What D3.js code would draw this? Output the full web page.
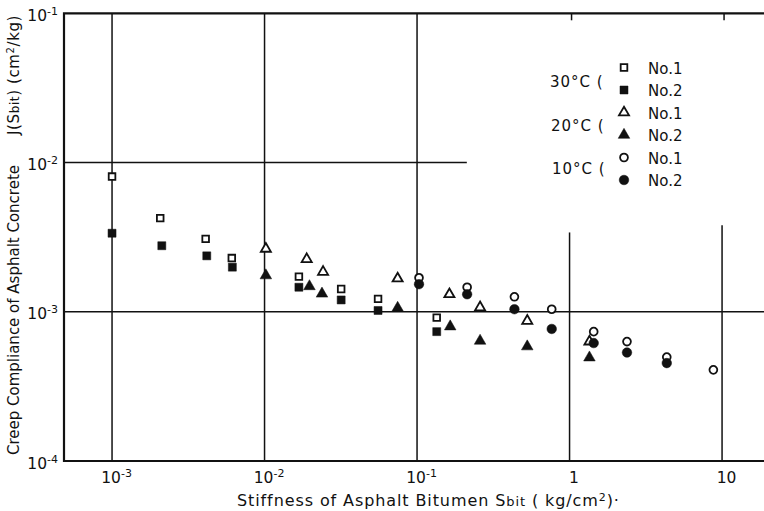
<!DOCTYPE html>
<html>
<head>
<meta charset="utf-8">
<script src="https://cdn.jsdelivr.net/npm/d3@7"></script>
<style>
  body { margin: 0; background: #fff; }
  text { font-family: "DejaVu Sans", sans-serif; fill: #111; }
</style>
</head>
<body>
<svg id="chart" width="764" height="511"></svg>
<script>
// stiffness of bitumen S (kg/cm2) vs creep compliance J (cm2/kg)
var s30no1 = [0.001, 0.00207, 0.00411, 0.0061, 0.0168, 0.0318, 0.0555, 0.1346];
var j30no1 = [8.05e-3, 4.24e-3, 3.08e-3, 2.29e-3, 1.72e-3, 1.42e-3, 1.22e-3, 0.914e-3];
var s30no2 = [0.001, 0.00212, 0.00418, 0.00615, 0.0168, 0.0318, 0.0555, 0.1346];
var j30no2 = [3.36e-3, 2.77e-3, 2.37e-3, 1.99e-3, 1.46e-3, 1.20e-3, 1.02e-3, 0.736e-3];
var s20no1 = [0.0102, 0.0189, 0.0242, 0.0746, 0.163, 0.259, 0.528, 1.35];
var j20no1 = [2.64e-3, 2.25e-3, 1.85e-3, 1.67e-3, 1.31e-3, 1.07e-3, 0.869e-3, 0.631e-3];
var s20no2 = [0.0102, 0.0197, 0.0238, 0.0746, 0.165, 0.259, 0.528, 1.35];
var j20no2 = [1.75e-3, 1.48e-3, 1.32e-3, 1.06e-3, 0.796e-3, 0.638e-3, 0.585e-3, 0.493e-3];
var s10no1 = [0.103, 0.213, 0.435, 0.764, 1.44, 2.38, 4.34, 8.77];
var j10no1 = [1.69e-3, 1.46e-3, 1.26e-3, 1.04e-3, 0.736e-3, 0.631e-3, 0.497e-3, 0.408e-3];
var s10no2 = [0.103, 0.213, 0.435, 0.764, 1.44, 2.38, 4.34];
var j10no2 = [1.53e-3, 1.31e-3, 1.04e-3, 0.767e-3, 0.617e-3, 0.533e-3, 0.453e-3];

var xTicks = [1e-3, 1e-2, 1e-1, 1, 10];
var yTicks = [1e-4, 1e-3, 1e-2, 1e-1];
// where the vertical grid lines stop at the top (in J units)
var vGridTop = [0.1, 0.1, 0.1, 3.4e-3, 3.8e-3];
// where the horizontal grid lines stop on the right (in S units)
var hGridEnd = [0.212, 30];
var tempLabels = ["30\u00b0C (", "20\u00b0C (", "10\u00b0C ("];
var noLabels = ["No.1", "No.2"];

var svg = d3.select("#chart");

var pLeft = 64, pRight = 764, pTop = 13.3, pBottom = 461;
var x = d3.scaleLog()
  .domain([Math.pow(10, -3.315), Math.pow(10, 1.275)])
  .range([pLeft, pRight]);
var y = d3.scaleLog()
  .domain([1e-4, 1e-1])
  .range([pBottom, pTop]);

var series = [
  { s: s30no1, j: j30no1, sym: d3.symbolSquare, fill: false },
  { s: s30no2, j: j30no2, sym: d3.symbolSquare, fill: true },
  { s: s20no1, j: j20no1, sym: d3.symbolTriangle, fill: false },
  { s: s20no2, j: j20no2, sym: d3.symbolTriangle, fill: true },
  { s: s10no1, j: j10no1, sym: d3.symbolCircle, fill: false },
  { s: s10no2, j: j10no2, sym: d3.symbolCircle, fill: true }
];

function symbolPath(d) {
  var size;
  if (d.sym === d3.symbolSquare) size = d.fill ? 64 : 44;
  else if (d.sym === d3.symbolTriangle) size = d.fill ? 58 : 44;
  else size = d.fill ? 72 : 48;
  return d3.symbol().type(d.sym).size(size)();
}

// grid
svg.append("g").selectAll("line")
  .data(xTicks)
  .enter()
  .append("line")
  .attr("x1", function(d) { return x(d); })
  .attr("x2", function(d) { return x(d); })
  .attr("y1", function(d, i) { return y(vGridTop[i]); })
  .attr("y2", pBottom)
  .attr("stroke", "#111")
  .attr("stroke-width", 1.5);

// short ticks at top where grid stops
svg.append("g").selectAll("line")
  .data(xTicks.filter(function(d, i) { return vGridTop[i] < 0.1; }))
  .enter()
  .append("line")
  .attr("x1", function(d) { return x(d) + 2; })
  .attr("x2", function(d) { return x(d) + 2; })
  .attr("y1", pTop)
  .attr("y2", pTop + 7)
  .attr("stroke", "#111")
  .attr("stroke-width", 1.5);

svg.append("g").selectAll("line")
  .data([1e-2, 1e-3])
  .enter()
  .append("line")
  .attr("x1", pLeft)
  .attr("x2", function(d, i) { return Math.min(pRight, x(hGridEnd[i])); })
  .attr("y1", function(d) { return y(d); })
  .attr("y2", function(d) { return y(d); })
  .attr("stroke", "#111")
  .attr("stroke-width", 1.5);

// frame: left, top, bottom
svg.append("path")
  .attr("d", "M" + pRight + "," + pTop + "H" + pLeft + "V" + pBottom + "H" + pRight)
  .attr("fill", "none")
  .attr("stroke", "#111")
  .attr("stroke-width", 2.2);

function powLabel(sel, v) {
  var e = Math.round(Math.log10(v));
  if (e >= 0) {
    sel.text(String(Math.round(v)));
  } else {
    sel.append("tspan").text("10");
    sel.append("tspan")
      .attr("dy", -6)
      .style("font-size", "11px")
      .text("-" + (-e));
  }
}

// x axis labels
var xAxis = d3.axisBottom(x).tickValues(xTicks).tickSize(0).tickFormat("");
var gx = svg.append("g").attr("transform", "translate(0," + pBottom + ")").call(xAxis);
gx.select(".domain").remove();
gx.selectAll(".tick").append("text")
  .attr("y", 22)
  .attr("x", 4)
  .attr("text-anchor", "middle")
  .style("font-size", "15.5px")
  .each(function(d) { powLabel(d3.select(this), d); });

// y axis labels
var yAxis = d3.axisLeft(y).tickValues(yTicks).tickSize(0).tickFormat("");
var gy = svg.append("g").attr("transform", "translate(" + pLeft + ",0)").call(yAxis);
gy.select(".domain").remove();
gy.selectAll(".tick").append("text")
  .attr("x", -6)
  .attr("y", 7)
  .attr("text-anchor", "end")
  .style("font-size", "15.5px")
  .each(function(d) { powLabel(d3.select(this), d); });

// points
series.forEach(function(d) {
  svg.append("g").selectAll("path")
    .data(d.s.map(function(s, i) { return [s, d.j[i]]; }))
    .enter()
    .append("path")
    .attr("transform", function(p) { return "translate(" + x(p[0]) + "," + y(p[1]) + ")"; })
    .attr("d", symbolPath(d))
    .attr("fill", d.fill ? "#111" : "#fff")
    .attr("stroke", "#111")
    .attr("stroke-width", d.fill ? 0.5 : 1.8);
});

// legend
var legend = svg.append("g");
legend.selectAll("text.temp")
  .data(tempLabels)
  .enter()
  .append("text")
  .attr("class", "temp")
  .attr("x", function(d, i) { return 550 + i; })
  .attr("y", function(d, i) { return 87 + i * 43.5; })
  .style("font-size", "15px")
  .style("letter-spacing", "1px")
  .text(function(d) { return d; });

var legendRows = [];
series.forEach(function(d, i) {
  legendRows.push({ sym: d.sym, fill: d.fill, label: noLabels[i % 2], row: i });
});
legend.selectAll("path")
  .data(legendRows)
  .enter()
  .append("path")
  .attr("transform", function(d) { return "translate(624," + (67.5 + d.row * 22.5) + ")"; })
  .attr("d", function(d) { return symbolPath(d); })
  .attr("fill", function(d) { return d.fill ? "#111" : "#fff"; })
  .attr("stroke", "#111")
  .attr("stroke-width", function(d) { return d.fill ? 0.5 : 1.8; });
legend.selectAll("text.no")
  .data(legendRows)
  .enter()
  .append("text")
  .attr("class", "no")
  .attr("x", 648)
  .attr("y", function(d) { return 73.5 + d.row * 22.5; })
  .style("font-size", "15px")
  .text(function(d) { return d.label; });

// axis titles
var xt = svg.append("text")
  .attr("x", 237)
  .attr("y", 506)
  .style("font-size", "16px")
  .style("letter-spacing", "0.9px");
xt.append("tspan").text("Stiffness of Asphalt Bitumen  S");
xt.append("tspan").style("font-size", "13px").text("bit");
xt.append("tspan").text(" ( kg/cm");
xt.append("tspan").attr("dy", -5).style("font-size", "11px").text("2");
xt.append("tspan").attr("dy", 5).text(")\u00b7");

svg.append("text")
  .attr("transform", "translate(19,455) rotate(-90)")
  .style("font-size", "15px")
  .text("Creep Compliance of Asphalt Concrete");

var yt = svg.append("text")
  .attr("transform", "translate(19,15) rotate(-90)")
  .attr("text-anchor", "end")
  .style("font-size", "15px")
  .style("letter-spacing", "0.6px");
yt.append("tspan").text("J(S");
yt.append("tspan").style("font-size", "12px").text("bit");
yt.append("tspan").text(")  (cm");
yt.append("tspan").attr("dy", -5).style("font-size", "10px").text("2");
yt.append("tspan").attr("dy", 5).text("/kg)");
</script>
</body>
</html>
